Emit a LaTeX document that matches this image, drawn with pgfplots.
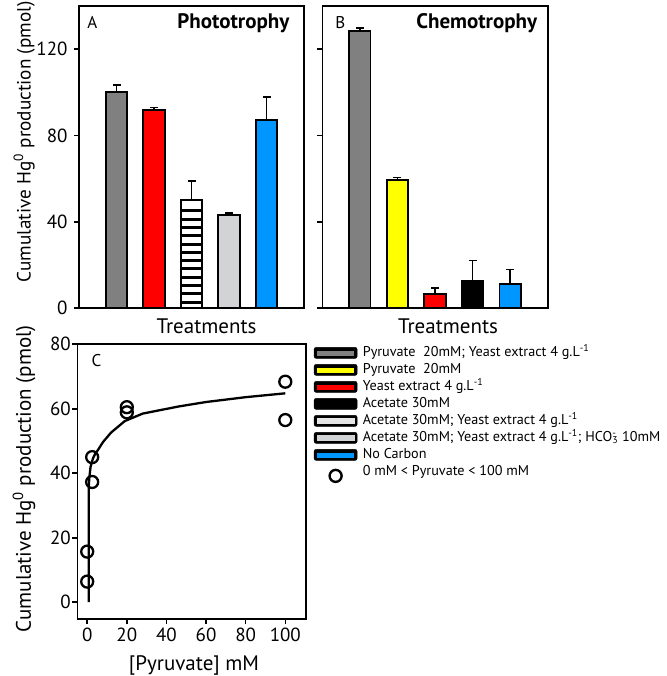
\documentclass[border=0pt]{standalone}
\usepackage{fontspec}
\setmainfont{PT Sans}
\usepackage{pgfplots}
\pgfplotsset{compat=1.18}
\definecolor{cgray}{RGB}{128,128,128}
\definecolor{cred}{RGB}{255,0,0}
\definecolor{clgray}{RGB}{209,211,212}
\definecolor{cblue}{RGB}{0,150,255}
\definecolor{cyellow}{RGB}{255,255,0}
\pgfplotsset{
  panel/.style={scale only axis, axis line style={line width=1.6pt},
    tick style={line width=1.6pt, black}, major tick length=5pt, tick align=outside,
    ytick pos=left, xtick pos=left, clip=false,
    /pgf/number format/assume math mode=true,
    ticklabel style={font=\fontsize{19}{20}\selectfont},
    label style={font=\fontsize{21}{23}\selectfont}},
  bpanel/.style={panel, width=225pt, height=302pt, xmin=0, xmax=6, ymin=0, ymax=140,
    ytick={0,40,80,120}, xtick=\empty,
    yticklabel style={xshift=-3pt}},
  bb/.style={ybar, bar width=0.57, bar shift=0pt, draw=black, line width=1.8pt},
  eb/.style={black, line width=1.8pt, mark=-, mark size=4pt, mark indices={2},
    mark options={line width=1.8pt, solid}},
}
\newcommand{\legbar}[1]{\addlegendimage{legend image code/.code={%
  \fill[black, rounded corners=2pt] (0pt,-5.5pt) rectangle (43pt,5.5pt);
  \fill[#1] (3.5pt,-2pt) rectangle (39.5pt,2pt);}}}
\begin{document}
\begin{tikzpicture}
\path[use as bounding box] (0,0) rectangle (666pt,676pt);
% Panel A
\begin{axis}[bpanel, at={(79pt,368pt)}, anchor=south west,
  ylabel={Cumulative Hg\textsuperscript{0} production (pmol)},
  ylabel style={at={(axis description cs:-0.244,0.55)}, anchor=center, font=\fontsize{19.2}{22}\selectfont},
  xlabel={Treatments},
  xlabel style={at={(axis description cs:0.567,-0.083)}, anchor=base}]
\addplot[bb, fill=cgray] coordinates {(1,100)};
\addplot[bb, fill=cred] coordinates {(2,91.8)};
\addplot[bb, fill=white] coordinates {(3,50.2)};
\addplot[only marks, mark=-, mark size=10pt, mark options={line width=3pt, black}] coordinates {
  (3,2.6) (3,6.5) (3,10.3) (3,14.2) (3,18.1) (3,21.8) (3,25.6) (3,29.5) (3,33.4) (3,37.2) (3,41.1) (3,45.0)};
\addplot[bb, fill=clgray] coordinates {(4,43.1)};
\addplot[bb, fill=cblue] coordinates {(5,87.3)};
\addplot[eb] coordinates {(1,100) (1,103.3)};
\addplot[eb] coordinates {(2,91.8) (2,92.9)};
\addplot[eb] coordinates {(3,50.2) (3,59.0)};
\addplot[eb] coordinates {(4,43.1) (4,43.9)};
\addplot[eb] coordinates {(5,87.3) (5,97.7)};
\node[anchor=base west, font=\fontsize{17}{19}\selectfont] at (axis description cs:0.022,0.927) {A};
\node[anchor=base east, font=\bfseries\fontsize{21}{23}\selectfont] at (axis description cs:0.951,0.927) {Phototrophy};
\end{axis}
% Panel B
\begin{axis}[bpanel, at={(322.3pt,368pt)}, anchor=south west, width=225.4pt,
  yticklabels={},
  xlabel={Treatments},
  xlabel style={at={(axis description cs:0.558,-0.083)}, anchor=base}]
\addplot[bb, fill=cgray] coordinates {(1,128.4)};
\addplot[bb, fill=cyellow] coordinates {(2,59.5)};
\addplot[bb, fill=cred] coordinates {(3,6.4)};
\addplot[bb, fill=black] coordinates {(4,12.6)};
\addplot[bb, fill=cblue] coordinates {(5,11.3)};
\addplot[eb] coordinates {(1,128.4) (1,129.8)};
\addplot[eb] coordinates {(2,59.5) (2,60.5)};
\addplot[eb] coordinates {(3,6.4) (3,9.3)};
\addplot[eb] coordinates {(4,12.6) (4,22.0)};
\addplot[eb] coordinates {(5,11.3) (5,17.8)};
\node[anchor=base west, font=\fontsize{17}{19}\selectfont] at (axis description cs:0.042,0.927) {B};
\node[anchor=base east, font=\bfseries\fontsize{21}{23}\selectfont] at (axis description cs:0.969,0.927) {Chemotrophy};
\end{axis}
% Panel C
\begin{axis}[panel, at={(77.3pt,57pt)}, anchor=south west, width=228.4pt, height=274.7pt,
  xmin=-5, xmax=110.3, ymin=-5.2, ymax=80,
  xtick={0,20,40,60,80,100}, ytick={0,20,40,60,80},
  yticklabel style={xshift=2pt},
  ylabel={Cumulative Hg\textsuperscript{0} production (pmol)},
  ylabel style={at={(axis description cs:-0.233,0.51)}, anchor=center},
  xlabel={[Pyruvate] mM},
  xlabel style={at={(axis description cs:0.511,-0.189)}, anchor=base},
  legend style={at={(1.036,0.997)}, anchor=north west, draw=none, fill=none,
    inner sep=0pt, outer sep=0pt,
    font=\fontsize{14.2}{16}\selectfont, row sep=1.5pt,
    nodes={inner sep=0.5pt, text height=11pt, text depth=3.5pt},
    /tikz/every odd column/.append style={column sep=5pt}},
  legend cell align=left]
\legbar{cgray}\addlegendentry{Pyruvate\ \ 20mM; Yeast extract 4 g.L\textsuperscript{-1}}
\legbar{cyellow}\addlegendentry{Pyruvate\ \ 20mM}
\legbar{cred}\addlegendentry{Yeast extract 4 g.L\textsuperscript{-1}}
\legbar{black}\addlegendentry{Acetate 30mM}
\addlegendimage{legend image code/.code={%
  \fill[black, rounded corners=2pt] (0pt,-5.5pt) rectangle (43pt,5.5pt);
  \fill[white!80!gray] (3pt,-2.6pt) rectangle (40pt,-1.6pt);
  \fill[white!80!gray] (3pt,-0.5pt) rectangle (40pt,0.5pt);
  \fill[white!80!gray] (3pt,1.6pt) rectangle (40pt,2.6pt);}}
\addlegendentry{Acetate 30mM; Yeast extract 4 g.L\textsuperscript{-1}}
\addlegendimage{legend image code/.code={%
  \fill[black, rounded corners=2pt] (0pt,-5.5pt) rectangle (43pt,5.5pt);
  \fill[clgray] (3pt,-2.6pt) rectangle (40pt,2.6pt);}}
\addlegendentry{Acetate 30mM; Yeast extract 4 g.L\textsuperscript{-1}; HCO\rlap{\textsuperscript{-}}\textsubscript{3} 10mM}
\legbar{cblue}\addlegendentry{No Carbon}
\addlegendimage{legend image code/.code={%
  \draw[black, line width=2.4pt] (21.5pt,-4pt) circle (6pt);}}
\addlegendentry{0 mM < Pyruvate < 100 mM}
\addplot[black, line width=2.3pt, forget plot] coordinates {
  (0.8,0) (0.8,36) (1.1,38.8) (1.7,42) (2.9,44.6) (4,46) (5.4,47.2) (8,49.7)
  (12,52.6) (19,56.2) (28,58.5) (46,60.7) (60,62.1) (80,63.6) (100,64.8)};
\addplot[only marks, mark=o, mark size=6pt, line width=2.3pt, black, forget plot] coordinates {
  (0,6.4) (0,15.7) (2.5,37.3) (2.5,45) (20,60.5) (20,58.9) (100,68.4) (100,56.5)};
\node[anchor=base west, font=\fontsize{17}{19}\selectfont] at (axis description cs:0.047,0.918) {C};
\end{axis}
\end{tikzpicture}
\end{document}
